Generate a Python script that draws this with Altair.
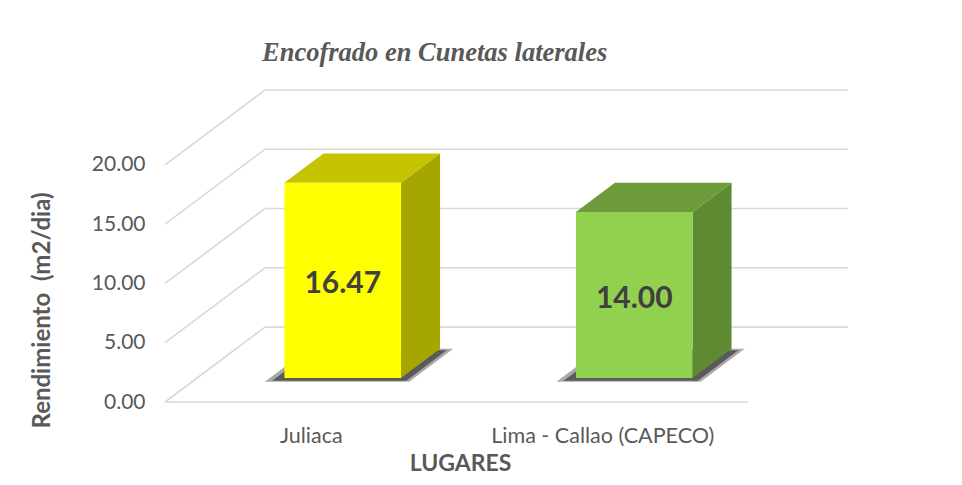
import altair as alt
import pandas as pd

# ---- data ----
categories = ["Juliaca", "Lima - Callao (CAPECO)"]
values = [16.47, 14.00]
y_ticks = [0, 5, 10, 15, 20]

# ---- styles ----
front_colors = ["#FFFF00", "#92D050"]
top_colors = ["#C4C400", "#6E9B3C"]
side_colors = ["#A6A600", "#5E8A32"]
GRID = "#D9D9D9"
TXT = "#595959"
FONT = "Lato"

# 3D projection parameters (oblique): depth shift in band units / value units
DX = 0.343
DY = 6.32
T1, T2 = 0.32, 0.71          # bar front / back depth
BL, BR = 0.30, 0.70          # bar left / right inside band
YMAX = 20 + DY
W, H = 683, 312

def proj_x(xb, t):
    return xb + t * DX

def proj_y(v, t):
    return v + t * DY

# gridlines: back wall, left wall diagonals, front floor edge
grid_rows = []
for v in y_ticks:
    grid_rows.append(dict(x=proj_x(0, 1), x2=proj_x(2, 1), y=proj_y(v, 1), y2=proj_y(v, 1)))
    grid_rows.append(dict(x=proj_x(0, 0), x2=proj_x(0, 1), y=proj_y(v, 0), y2=proj_y(v, 1)))
grid_rows.append(dict(x=proj_x(0, 0), x2=proj_x(2, 0), y=0, y2=0))
grid_df = pd.DataFrame(grid_rows)

front_rows, side_rows, top_rows, shadow_rows, shadow2_rows, label_rows = [], [], [], [], [], []
for i, (c, v) in enumerate(zip(categories, values)):
    front_rows.append(dict(cat=c, x=proj_x(i + BL, T1), x2=proj_x(i + BR, T1),
                           y=proj_y(0, T1), y2=proj_y(v, T1)))
    for t in (T1, T2):
        side_rows.append(dict(cat=c, x=proj_x(i + BR, t), y=proj_y(0, t), y2=proj_y(v, t)))
        top_rows.append(dict(cat=c, y=proj_y(v, t), x=proj_x(i + BL, t), x2=proj_x(i + BR, t)))
    for t in (T1 - 0.05, T2):
        shadow_rows.append(dict(cat=c, y=proj_y(0, t), x=proj_x(i + BL - 0.05, t),
                                x2=proj_x(i + BR + 0.045, t)))
    for t in (T1 - 0.035, T2 - 0.02):
        shadow2_rows.append(dict(cat=c, y=proj_y(0, t), x=proj_x(i + BL - 0.03, t),
                                 x2=proj_x(i + BR + 0.03, t)))
    label_rows.append(dict(cat=c, v=v, x=proj_x(i + 0.5, T1), y=proj_y(v / 2, T1)))

front_df = pd.DataFrame(front_rows)
side_df = pd.DataFrame(side_rows)
top_df = pd.DataFrame(top_rows)
shadow_df = pd.DataFrame(shadow_rows)
shadow2_df = pd.DataFrame(shadow2_rows)
label_df = pd.DataFrame(label_rows)

xs = alt.Scale(domain=[0, 2 + DX], nice=False, zero=False)
ys = alt.Scale(domain=[0, YMAX], nice=False, zero=False)

label_expr = "[" + ",".join("'" + c + "'" for c in categories) + "][floor(datum.value)]"

x_axis = alt.Axis(values=[0.5, 1.5], labelExpr=label_expr, title="LUGARES",
                  labelFont=FONT, labelFontSize=21.5, labelColor=TXT, labelPadding=23,
                  labelLimit=0,
                  titleFont=FONT, titleFontSize=23, titleFontWeight="bold", titleColor=TXT,
                  titleX=295, titleY=61, titleBaseline="middle", titleAlign="center",
                  domain=False, ticks=False, tickSize=0, grid=False)
y_axis = alt.Axis(values=y_ticks, format=".2f", title="Rendimiento \u00a0(m2/dia)",
                  labelFont=FONT, labelFontSize=21, labelColor=TXT, labelPadding=20,
                  titleFont=FONT, titleFontSize=24, titleFontWeight="bold", titleColor=TXT,
                  titleX=-123, titleY=220, titleAngle=-90, titleBaseline="middle",
                  titleAlign="center", titleLimit=0,
                  domain=False, ticks=False, tickSize=0, grid=False)

X = lambda **kw: alt.X("x:Q", scale=xs, axis=x_axis, **kw)
Y = lambda **kw: alt.Y("y:Q", scale=ys, axis=y_axis, **kw)

grid = alt.Chart(grid_df).mark_rule(color=GRID, strokeWidth=1.6).encode(
    x=X(), x2="x2:Q", y=Y(), y2="y2:Q",
)

shadow = alt.Chart(shadow_df).mark_area(orient="horizontal", color="#404040", opacity=0.45).encode(
    y=Y(), x=X(stack=None), x2="x2:Q", detail="cat:N",
)
shadow2 = alt.Chart(shadow2_df).mark_area(orient="horizontal", color="#262626", opacity=0.6).encode(
    y=Y(), x=X(stack=None), x2="x2:Q", detail="cat:N",
)

side = alt.Chart(side_df).mark_area(orient="vertical").encode(
    x=X(), y=Y(stack=None), y2="y2:Q",
    color=alt.Color("cat:N", scale=alt.Scale(domain=categories, range=side_colors), legend=None),
)

top = alt.Chart(top_df).mark_area(orient="horizontal").encode(
    y=Y(), x=X(stack=None), x2="x2:Q",
    color=alt.Color("cat:N", scale=alt.Scale(domain=categories, range=top_colors), legend=None),
)

front = alt.Chart(front_df).mark_rect().encode(
    x=X(), x2="x2:Q", y=Y(), y2="y2:Q",
    color=alt.Color("cat:N", scale=alt.Scale(domain=categories, range=front_colors), legend=None),
)

labels = alt.Chart(label_df).mark_text(font=FONT, fontSize=30, fontWeight="bold",
                                       color="#404040", baseline="middle", dy=4).encode(
    x=X(), y=Y(), text=alt.Text("v:Q", format=".2f"),
)

chart = alt.layer(grid, shadow, shadow2, side, top, front, labels).resolve_scale(
    color="independent"
).properties(
    width=W, height=H,
    autosize=alt.AutoSizeParams(type="none"),
    padding={"left": 157, "top": 82, "right": 106, "bottom": 75},
    background="white",
    title=alt.Title("Encofrado en Cunetas laterales", font="Liberation Serif",
                    fontSize=26.5, fontStyle="italic", fontWeight="bold", color=TXT,
                    anchor="start", frame="group", dx=97, offset=2,
                    baseline="alphabetic"),
).configure_view(stroke=None)

chart.save("out.html", embed_options={"renderer": "svg", "actions": False})
